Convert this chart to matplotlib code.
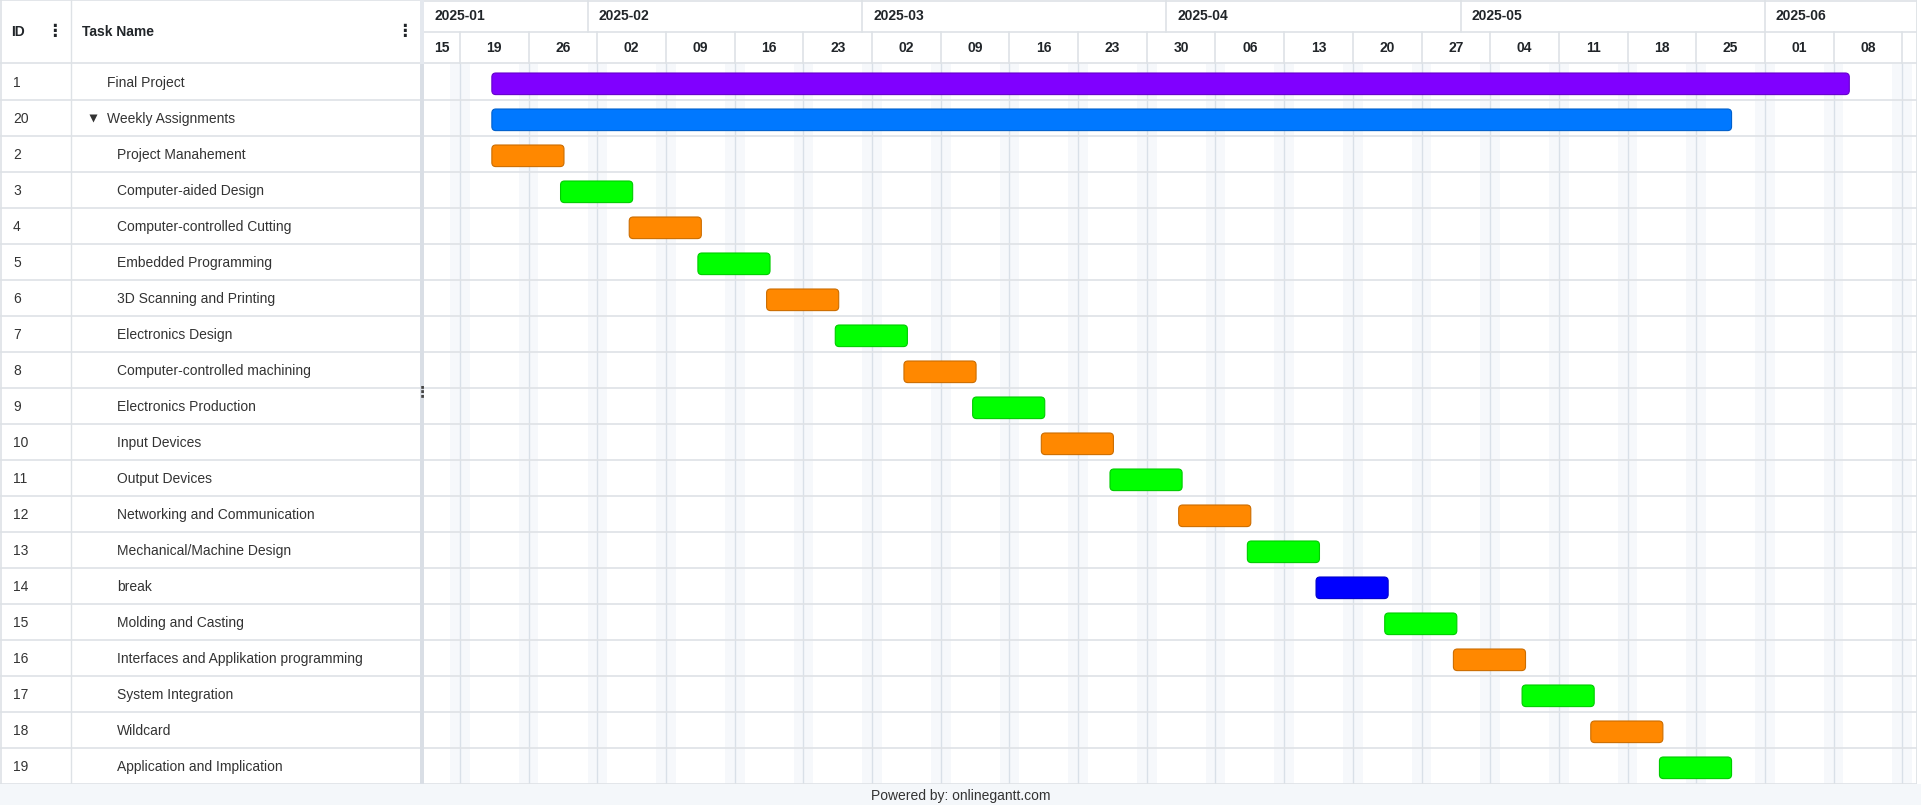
import datetime as dt
import matplotlib
matplotlib.use('Agg')
import matplotlib.pyplot as plt
import matplotlib.dates as mdates
from matplotlib.colors import to_rgb
from matplotlib.patches import FancyBboxPatch

plt.rcParams['font.family'] = ['Liberation Sans', 'DejaVu Sans']

# task table (row order as shown)
ids = [1, 20, 2, 3, 4, 5, 6, 7, 8, 9, 10, 11, 12, 13, 14, 15, 16, 17, 18, 19]
names = ['Final Project', 'Weekly Assignments', 'Project Manahement',
         'Computer-aided Design', 'Computer-controlled Cutting',
         'Embedded Programming', '3D Scanning and Printing', 'Electronics Design',
         'Computer-controlled machining', 'Electronics Production', 'Input Devices',
         'Output Devices', 'Networking and Communication', 'Mechanical/Machine Design',
         'break', 'Molding and Casting', 'Interfaces and Applikation programming',
         'System Integration', 'Wildcard', 'Application and Implication']
levels = [0, 0] + [1] * 18
starts = ['2025-01-22', '2025-01-22', '2025-01-22', '2025-01-29', '2025-02-05',
          '2025-02-12', '2025-02-19', '2025-02-26', '2025-03-05', '2025-03-12',
          '2025-03-19', '2025-03-26', '2025-04-02', '2025-04-09', '2025-04-16',
          '2025-04-23', '2025-04-30', '2025-05-07', '2025-05-14', '2025-05-21']
ends = ['2025-06-09', '2025-05-28', '2025-01-29', '2025-02-05', '2025-02-12',
        '2025-02-19', '2025-02-26', '2025-03-05', '2025-03-12', '2025-03-19',
        '2025-03-26', '2025-04-02', '2025-04-09', '2025-04-16', '2025-04-23',
        '2025-04-30', '2025-05-07', '2025-05-14', '2025-05-21', '2025-05-28']
colors = ['#8000ff', '#0078ff', '#ff8800', '#00ff00', '#ff8800', '#00ff00',
          '#ff8800', '#00ff00', '#ff8800', '#00ff00', '#ff8800', '#00ff00',
          '#ff8800', '#00ff00', '#0000ff', '#00ff00', '#ff8800', '#00ff00',
          '#ff8800', '#00ff00']

view_start = '2025-01-15 08:00'
view_end = '2025-06-16 12:00'

W, H = 1921, 805
LINE = '#dee2e6'
WEEK = '#d9e0e8'
WEEKEND = '#f6f8fb'
TXT = '#333333'
HEAD = '#212529'
FS = 10


def to_num(s):
    return mdates.date2num(dt.datetime.fromisoformat(s))


def add_ax(fig, x0, y0, x1, y1):
    ax = fig.add_axes([x0 / W, 1 - y1 / H, (x1 - x0) / W, (y1 - y0) / H])
    for sp in ax.spines.values():
        sp.set_visible(False)
    ax.set_xticks([])
    ax.set_yticks([])
    return ax


def darker(c, f=0.8):
    r, g, b = to_rgb(c)
    return (r * f, g * f, b * f)


fig = plt.figure(figsize=(W / 100, H / 100), dpi=100)
fig.patch.set_facecolor('white')

n = len(ids)
HDR, ROW = 64, 36
body_bottom = HDR + ROW * n
x_split, x_chart, x_right = 420, 424, 1917

x0, x1 = to_num(view_start), to_num(view_end)
d0 = dt.datetime.fromisoformat(view_start).date()
d1 = dt.datetime.fromisoformat(view_end).date()

# ---------------- table header ----------------
th = add_ax(fig, 0, 0, x_split, HDR)
th.set_xlim(0, x_split)
th.set_ylim(HDR, 0)
th.axhline(HDR - 0.5, color=LINE, lw=1.2)
th.axhline(0.5, color=LINE, lw=1.2)
th.axvline(71, color=LINE, lw=1)
th.axvline(0.5, color=LINE, lw=1.2)
th.text(11, 32, 'ID', fontsize=FS, fontweight='bold', color=HEAD, va='center')
th.text(82, 32, 'Task Name', fontsize=FS, fontweight='bold', color=HEAD, va='center')
for xd in (54.5, 404.5):
    th.text(xd, 31, '⋮', fontsize=12, fontweight='bold', color=HEAD,
            ha='center', va='center', family='DejaVu Sans')

# ---------------- table body ----------------
tb = add_ax(fig, 0, HDR, x_split, body_bottom)
tb.set_xlim(0, x_split)
tb.set_ylim(n, 0)
tb.axvline(71, color=LINE, lw=1)
tb.axvline(0.5, color=LINE, lw=1.2)
for i in range(1, n + 1):
    tb.axhline(i, color=LINE, lw=1.2)
for i, (tid, name, lv) in enumerate(zip(ids, names, levels)):
    yc = i + 0.52
    tb.text(13, yc, str(tid), fontsize=FS, color=TXT, va='center')
    tb.text(107 if lv == 0 else 117, yc, name, fontsize=FS, color=TXT, va='center')
    if name == 'Weekly Assignments':
        tb.plot(92.5, yc - 0.03, marker='v', ms=5.2, color='#333333', mec='none')

# ---------------- splitter ----------------
sp = add_ax(fig, x_split, HDR, x_chart, body_bottom)
sp.set_facecolor('#d9dee5')
sp2 = add_ax(fig, x_split, 0, x_chart, HDR)
sp2.set_facecolor('#e4e8ee')
fig.text((x_split + 2) / W, 1 - 392 / H, '⋮', fontsize=11, fontweight='bold',
         color='#444444', ha='center', va='center', family='DejaVu Sans')

# ---------------- chart header ----------------
ch = add_ax(fig, x_chart, 0, x_right, HDR)
ch.set_xlim(x0, x1)
ch.set_ylim(2, 0)
ch.axhline(1, color=LINE, lw=1.2)
ch.axhline(2 - 0.02, color=LINE, lw=1.2)
ch.axhline(0.02, color=LINE, lw=1.2)

months = []
d = d0
while d <= d1:
    if d == d0 or d.day == 1:
        months.append(d)
    d += dt.timedelta(days=1)
for m in months:
    xm = max(mdates.date2num(m), x0)
    if m != d0:
        ch.plot([xm, xm], [0, 1], color=LINE, lw=1.2)
    ch.annotate(f'{m.year}-{m.month:02d}', xy=(xm, 0.5), xytext=(11, 0),
                textcoords='offset pixels', fontsize=FS, fontweight='bold',
                color=HEAD, va='center')

sundays = []
d = d0
while d <= d1:
    if d.weekday() == 6:
        sundays.append(d)
    d += dt.timedelta(days=1)
cols = [d0] + sundays
for k, c in enumerate(cols):
    ca = max(mdates.date2num(c), x0)
    cb = mdates.date2num(cols[k + 1]) if k + 1 < len(cols) else x1
    if c in sundays:
        ch.plot([ca, ca], [1, 2], color=LINE, lw=1.2)
    if cb - ca > 2:
        ch.text((ca + cb) / 2, 1.5, f'{c.day:02d}', fontsize=FS, fontweight='bold',
                color=HEAD, ha='center', va='center')
ch.axvline(x1, color=LINE, lw=2)

# ---------------- chart body ----------------
ax = add_ax(fig, x_chart, HDR, x_right, body_bottom)
ax.set_xlim(x0, x1)
ax.set_ylim(n, 0)

d = d0
while d <= d1:
    if d.weekday() == 5:
        a = mdates.date2num(d)
        ax.axvspan(a, a + 2, color=WEEKEND, lw=0, zorder=0)
    d += dt.timedelta(days=1)
for s in sundays:
    ax.axvline(mdates.date2num(s), color=WEEK, lw=1, zorder=1)
for i in range(1, n + 1):
    ax.axhline(i, color=LINE, lw=1.2, zorder=1)
ax.axvline(x1, color=LINE, lw=2)

px_day = (x_right - x_chart) / (x1 - x0)
rad = 4 / px_day
aspect = (4 / ROW) / rad
for i, (s, e, c) in enumerate(zip(starts, ends, colors)):
    left = to_num(s) + 0.25
    right = to_num(e) + 0.6
    bar = FancyBboxPatch((left, i + 0.25), right - left, 0.6,
                         boxstyle=f'round,pad=0,rounding_size={rad}',
                         mutation_aspect=aspect, facecolor=c,
                         edgecolor=darker(c), lw=0.8, zorder=3)
    ax.add_patch(bar)

# ---------------- footer ----------------
ft = add_ax(fig, 0, body_bottom, W, H)
ft.set_facecolor('#f4f7fa')
ft.text(0.5, 0.45, 'Powered by: onlinegantt.com', fontsize=FS, color=TXT,
        ha='center', va='center', transform=ft.transAxes)

fig.savefig('out.png', dpi=100)
